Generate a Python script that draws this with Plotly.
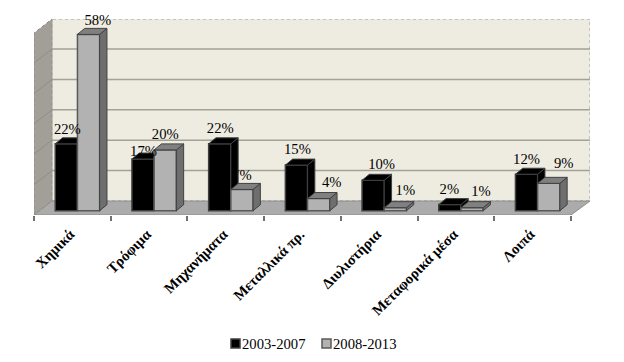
import plotly.graph_objects as go

categories = ["Χημικά", "Τρόφιμα", "Μηχανήματα", "Μεταλλικά πρ.", "Διυλιστήρια", "Μεταφορικά μέσα", "Λοιπά"]
series_a_name = "2003-2007"
series_b_name = "2008-2013"
series_a = [22, 17, 22, 15, 10, 2, 12]
series_b = [58, 20, 7, 4, 1, 1, 9]
grid_values = [0, 10, 20, 30, 40, 50, 60]

# Scale of the drawing
PAGE = 8  # the browser's default body margin
PX_X = 76.7
PX_Y = 3.04
L, R, T, B = 34, 590, 19, 215
W, H = 624 - PAGE, 362 - PAGE
Y0 = 210.7
xr = [-0.5, -0.5 + (R - L) / PX_X]
yr = [(Y0 - B) / PX_Y, (Y0 - T) / PX_Y]

# Pseudo-3D depth, in data units
bar_w = 22.2 / PX_X
group_shift = 5.1 / PX_X
bar_dx = 7.3 / PX_X
bar_dy = 6 / PX_Y
wall_dx = 18 / PX_X
wall_dy = (Y0 - 201) / PX_Y
side_drop = 14 / PX_Y

# Label nudges (pixels): from the bar centre / above the bar's front top
a_nudge_x = [1, 0.5, 0.5, 1, 8.5, -0.5, 0]
a_nudge_y = [13.6, 6.3, 14.3, 14.7, 15.3, 14.7, 14.3]
b_nudge_x = [9.3, 0, 0, 13, 10, 9, 15]
b_nudge_y = [13, 14.7, 13.3, 15, 16.3, 15, 19.3]

pos = list(range(len(categories)))
xa = [k + group_shift - bar_w / 2 for k in pos]
xb = [k + group_shift + bar_w / 2 for k in pos]

SERIF = "Liberation Serif, Times New Roman, serif"
EDGE = "#404040"


def faces(xc, vals):
    top_x, top_y, side_x, side_y = [], [], [], []
    for x, v in zip(xc, vals):
        x0, x1 = x - bar_w / 2, x + bar_w / 2
        top_x += [x0, x1, x1 + bar_dx, x0 + bar_dx, x0, None]
        top_y += [v, v, v + bar_dy, v + bar_dy, v, None]
        side_x += [x1, x1 + bar_dx, x1 + bar_dx, x1, x1, None]
        side_y += [0, bar_dy, v + bar_dy, v, 0, None]
    return top_x, top_y, side_x, side_y


def poly(x, y, color, xa_name, ya_name):
    return go.Scatter(x=x, y=y, mode="lines", fill="toself", fillcolor=color,
                      line=dict(color=EDGE, width=1), showlegend=False, hoverinfo="skip",
                      xaxis=xa_name, yaxis=ya_name)


def labels(xc, vals, nx, ny, xa_name, ya_name):
    return go.Scatter(
        x=[x + n / PX_X for x, n in zip(xc, nx)],
        y=[v + n / PX_Y for v, n in zip(vals, ny)],
        mode="text", text=[f"{v}%" for v in vals], textposition="middle center",
        textfont=dict(family=SERIF, size=14.67, color="#000000"),
        showlegend=False, hoverinfo="skip", cliponaxis=False, xaxis=xa_name, yaxis=ya_name)


fig = go.Figure()

# Series A (lower subplot layer)
fig.add_trace(go.Bar(x=xa, y=series_a, width=bar_w, name=series_a_name, showlegend=False,
                     marker=dict(color="#000000", line=dict(color=EDGE, width=1.5))))
fig.add_trace(labels(xb, series_b, b_nudge_x, b_nudge_y, "x", "y"))
ta = faces(xa, series_a)
fig.add_trace(poly(ta[2], ta[3], "#000000", "x", "y"))
fig.add_trace(poly(ta[0], ta[1], "#000000", "x", "y"))

# Series B (upper subplot layer)
fig.add_trace(go.Bar(x=xb, y=series_b, width=bar_w, name=series_b_name, xaxis="x2", yaxis="y2", showlegend=False,
                     marker=dict(color="#B2B2B2", line=dict(color="#595959", width=1.5))))
tb = faces(xb, series_b)
fig.add_trace(poly(tb[2], tb[3], "#6E6E6E", "x2", "y2"))
fig.add_trace(poly(tb[0], tb[1], "#808080", "x2", "y2"))
fig.add_trace(labels(xa, series_a, a_nudge_x, a_nudge_y, "x2", "y2"))

x_front_end = xr[0] + (571 - L) / PX_X
shapes = [
    dict(type="rect", xref="x", yref="y", x0=xr[0] + wall_dx, x1=xr[1], y0=wall_dy, y1=yr[1],
         fillcolor="#EEECE1", line=dict(color="#9A9A9A", width=1, dash="dot"), layer="below"),
    dict(type="path", xref="x", yref="y", layer="below", fillcolor="#A19F97",
         line=dict(color="#8A8880", width=1, dash="dot"),
         path=f"M{xr[0]},{yr[0]} L{xr[0]},{yr[1] - side_drop} L{xr[0] + wall_dx},{yr[1]} L{xr[0] + wall_dx},{wall_dy} Z"),
]

# Gridlines: along the back wall and slanting down the side wall
for g in grid_values[1:-1]:
    shapes.append(dict(type="line", xref="x", yref="y", layer="below", x0=xr[0] + wall_dx, x1=xr[1],
                       y0=g + wall_dy, y1=g + wall_dy, line=dict(color="#A3A198", width=1.5)))
    shapes.append(dict(type="line", xref="x", yref="y", layer="below", x0=xr[0], x1=xr[0] + wall_dx,
                       y0=g + wall_dy - side_drop, y1=g + wall_dy, line=dict(color="#8F8D86", width=1)))

shapes.append(dict(type="path", xref="x", yref="y", layer="below", fillcolor="#ABABAB",
                   line=dict(color="#8C8C8C", width=1),
                   path=f"M{xr[0]},{yr[0]} L{xr[0] + wall_dx},{wall_dy} L{xr[1]},{wall_dy} L{x_front_end},{yr[0]} Z"))

# Compact legend: swatch and text placed in page pixels
annotations = []
for name, sw_left, fill, edge in [(series_a_name, 231, "#000000", "#404040"),
                                  (series_b_name, 322, "#B2B2B2", "#595959")]:
    sw_top, sw_size = 339, 9
    shapes.append(dict(type="rect", xref="paper", yref="paper",
                       x0=(sw_left - L) / (R - L), x1=(sw_left + sw_size - L) / (R - L),
                       y0=(B - sw_top - sw_size) / (B - T), y1=(B - sw_top) / (B - T),
                       fillcolor=fill, line=dict(color=edge, width=1.5)))
    annotations.append(dict(xref="paper", yref="paper", x=(sw_left + sw_size + 1.5 - L) / (R - L),
                            y=(B - 343.5) / (B - T), text=name, showarrow=False, xanchor="left",
                            yanchor="middle", borderpad=0, borderwidth=0,
                            font=dict(family=SERIF, size=14.67, color="#000000")))

fig.update_layout(
    width=W, height=H,
    margin=dict(l=L - PAGE, r=624 - R, t=T - PAGE, b=362 - B),
    paper_bgcolor="#FFFFFF", plot_bgcolor="rgba(0,0,0,0)",
    barmode="overlay", showlegend=False, shapes=shapes, annotations=annotations,
    font=dict(family=SERIF, color="#000000"),
    xaxis=dict(range=xr, tickmode="array", tickvals=[k - 0.03 for k in pos], ticktext=categories, tickangle=-45,
               ticks="", showgrid=False, zeroline=False, showline=False,
               tickfont=dict(family=SERIF, size=14.67, color="#000000", weight="bold"),
               ticklabelstandoff=7,
               minor=dict(tickmode="array", tickvals=[k - 0.5 for k in pos] + [pos[-1] + 0.5],
                          ticks="outside", ticklen=5, tickcolor="#707070", tickwidth=1.5, showgrid=False)),
    yaxis=dict(range=yr, showticklabels=False, ticks="", showgrid=False, zeroline=False, showline=False),
    xaxis2=dict(range=xr, overlaying="x", visible=False),
    yaxis2=dict(range=yr, overlaying="y", visible=False),
)

fig.write_html("out.html")
